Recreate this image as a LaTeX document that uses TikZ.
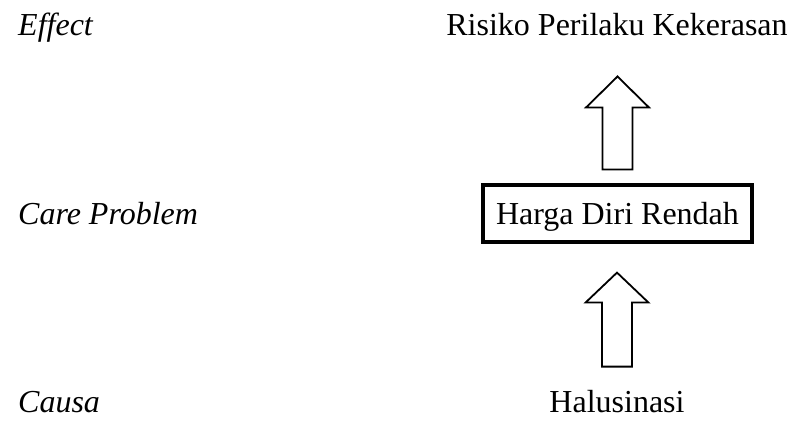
\documentclass[tikz,border=0pt]{standalone}
\usepackage{fontspec}
\setmainfont{Liberation Serif}
\usetikzlibrary{calc}

\newcommand{\bigtext}{\fontsize{32}{38}\selectfont}
\tikzset{
  lbl/.style={anchor=base west, inner sep=0pt, font=\bigtext\itshape},
  item/.style={anchor=base, inner sep=0pt, font=\bigtext},
  probbox/.style={draw, line width=4pt, minimum width=269pt, minimum height=57pt,
    inner sep=0pt, text height=22pt, text depth=0pt, font=\bigtext},
  blockarrow/.style={draw, line width=1.8pt, line join=miter, fill=white}
}
% block arrow pointing up: #1 foot, #2 shaft length, #3 head length
\newcommand{\blockup}[3]{%
  \draw[blockarrow] (#1) ++(-15,0) -- ++(0,#2) -- ++(-16.5,0) -- ++(31.5,#3)
    -- ++(31.5,-#3) -- ++(-16.5,0) -- ++(0,-#2) -- cycle;}

\begin{document}
\begin{tikzpicture}[x=1pt, y=1pt]
  \useasboundingbox (0,0) rectangle (794,421);
  % left column
  \node[lbl] (effect) at (18,385) {Effect};
  \node[lbl] (care) at (18,197) {Care Problem};
  \node[lbl] (causa) at (18,9) {Causa};
  % right column
  \node[item] (rpk) at (617,385) {Risiko Perilaku Kekerasan};
  \node[probbox] (hdr) at (617.5,208) {Harga Diri Rendah};
  \node[item] (hal) at (617,9) {Halusinasi};
  % arrows between them
  \coordinate (up1) at ($(hdr.north)+(0,13)$);
  \coordinate (up2) at ($(hal.north)+(0,23)$);
  \blockup{up1}{62}{31}
  \blockup{up2}{64}{30}
\end{tikzpicture}
\end{document}
